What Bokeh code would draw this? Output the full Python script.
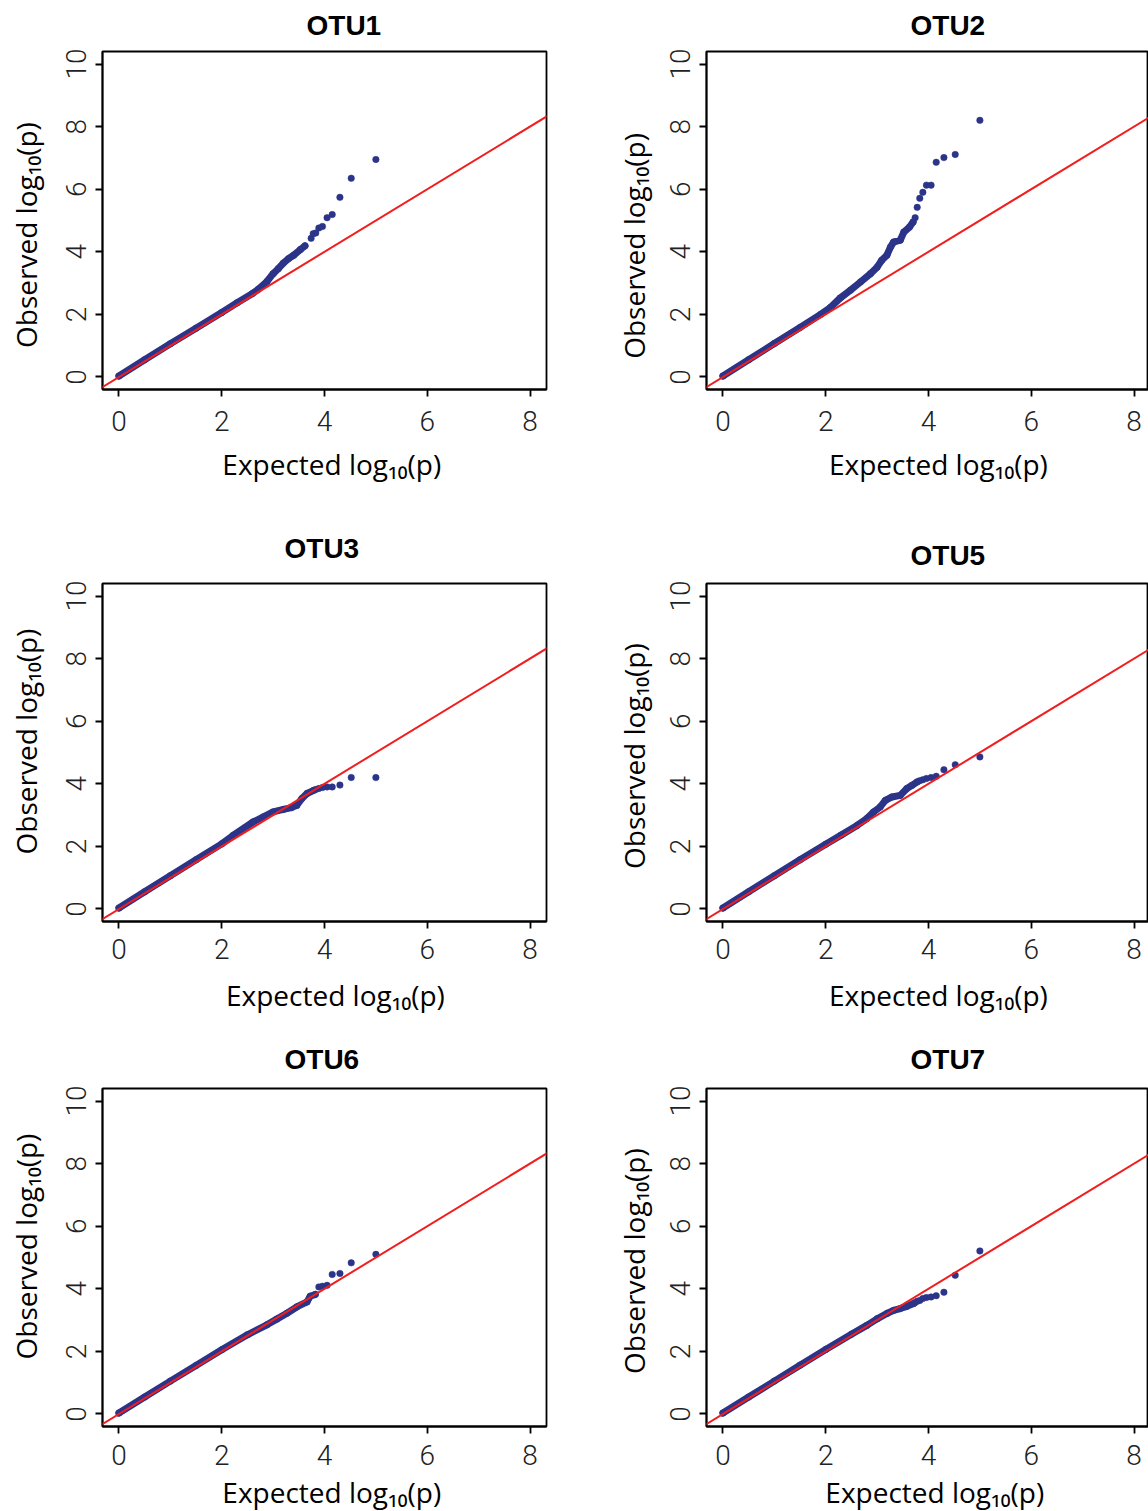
from bokeh.plotting import figure
from bokeh.layouts import column, row
from bokeh.models import Range1d, FixedTicker, Slope
from bokeh.embed import file_html
from bokeh.resources import INLINE

# ---------------- data ----------------
panel_titles = ["OTU1", "OTU2", "OTU3", "OTU5", "OTU6", "OTU7"]
x_ticks = [0, 2, 4, 6, 8]
y_ticks = [0, 2, 4, 6, 8, 10]
x_label = "Expected log\u2081\u2080(p)"
y_label = "Observed log\u2081\u2080(p)"

# dense part of each QQ curve (expected, observed) and the separated tail points
otu1_band_exp = [0.0, 0.5, 1.0, 1.5, 2.0, 2.3, 2.6, 2.71, 2.88, 3.00, 3.10, 3.20, 3.30, 3.40, 3.53, 3.62]
otu1_band_obs = [0.03, 0.55, 1.06, 1.56, 2.06, 2.37, 2.67, 2.80, 3.05, 3.30, 3.46, 3.64, 3.78, 3.89, 4.07, 4.19]
otu1_tail_exp = [3.74, 3.78, 3.83, 3.89, 3.96, 4.05, 4.15, 4.30, 4.52, 5.00]
otu1_tail_obs = [4.43, 4.58, 4.60, 4.76, 4.81, 5.09, 5.19, 5.74, 6.35, 6.95]

otu2_band_exp = [0.0, 0.5, 1.0, 1.5, 1.9, 2.09, 2.28, 2.48, 2.68, 2.87, 3.00, 3.09, 3.19, 3.26, 3.32, 3.45, 3.52, 3.63, 3.70]
otu2_band_obs = [0.03, 0.55, 1.07, 1.58, 2.00, 2.22, 2.52, 2.77, 3.04, 3.30, 3.51, 3.73, 3.89, 4.15, 4.31, 4.37, 4.63, 4.79, 4.95]
otu2_tail_exp = [3.74, 3.78, 3.83, 3.89, 3.96, 4.05, 4.15, 4.30, 4.52, 5.00]
otu2_tail_obs = [5.09, 5.42, 5.71, 5.90, 6.13, 6.13, 6.86, 7.01, 7.11, 8.20]

otu3_band_exp = [0.0, 0.5, 1.0, 1.5, 2.0, 2.22, 2.61, 2.81, 3.00, 3.20, 3.36, 3.46, 3.56, 3.66, 3.79]
otu3_band_obs = [0.03, 0.55, 1.06, 1.57, 2.08, 2.35, 2.78, 2.94, 3.10, 3.18, 3.24, 3.31, 3.53, 3.69, 3.79]
otu3_tail_exp = [3.83, 3.89, 3.96, 4.05, 4.15, 4.30, 4.52, 5.00]
otu3_tail_obs = [3.82, 3.85, 3.88, 3.90, 3.90, 3.96, 4.20, 4.20]

otu5_band_exp = [0.0, 0.5, 1.0, 1.5, 2.0, 2.3, 2.61, 2.80, 2.93, 3.06, 3.16, 3.29, 3.45, 3.58, 3.68, 3.78]
otu5_band_obs = [0.03, 0.55, 1.06, 1.57, 2.07, 2.36, 2.67, 2.89, 3.10, 3.26, 3.47, 3.58, 3.63, 3.85, 3.95, 4.06]
otu5_tail_exp = [3.83, 3.89, 3.96, 4.05, 4.15, 4.30, 4.52, 5.00]
otu5_tail_obs = [4.10, 4.13, 4.17, 4.20, 4.24, 4.45, 4.61, 4.86]

otu6_band_exp = [0.0, 0.5, 1.0, 1.5, 2.0, 2.5, 2.88, 3.07, 3.27, 3.46, 3.66, 3.72, 3.82]
otu6_band_obs = [0.03, 0.54, 1.05, 1.55, 2.05, 2.53, 2.85, 3.03, 3.22, 3.42, 3.58, 3.76, 3.82]
otu6_tail_exp = [3.89, 3.96, 4.05, 4.15, 4.30, 4.52, 5.00]
otu6_tail_obs = [4.06, 4.08, 4.11, 4.46, 4.49, 4.83, 5.10]

otu7_band_exp = [0.0, 0.5, 1.0, 1.5, 2.0, 2.5, 2.80, 3.00, 3.19, 3.32, 3.45, 3.58, 3.71]
otu7_band_obs = [0.03, 0.54, 1.05, 1.56, 2.06, 2.55, 2.83, 3.04, 3.21, 3.31, 3.37, 3.44, 3.53]
otu7_tail_exp = [3.74, 3.78, 3.83, 3.89, 3.96, 4.05, 4.15, 4.30, 4.52, 5.00]
otu7_tail_obs = [3.56, 3.60, 3.63, 3.69, 3.72, 3.74, 3.78, 3.89, 4.43, 5.21]

# reference line y = x
ref_slope = 1.0
ref_intercept = 0.0

bands = [
    (otu1_band_exp, otu1_band_obs, otu1_tail_exp, otu1_tail_obs),
    (otu2_band_exp, otu2_band_obs, otu2_tail_exp, otu2_tail_obs),
    (otu3_band_exp, otu3_band_obs, otu3_tail_exp, otu3_tail_obs),
    (otu5_band_exp, otu5_band_obs, otu5_tail_exp, otu5_tail_obs),
    (otu6_band_exp, otu6_band_obs, otu6_tail_exp, otu6_tail_obs),
    (otu7_band_exp, otu7_band_obs, otu7_tail_exp, otu7_tail_obs),
]

# ---------------- styling / layout ----------------
BLUE = "#2B3488"
RED = "#F01E1E"
TICK_FONT = "Roboto Light"
LABEL_FONT = "Open Sans"
TITLE_FONT = "Liberation Sans"
NB = "\u00a0"

FRAME_H = 338
X0, X1 = -0.32, 8.32
Y0, Y1 = -0.4, 10.4
PX_PER_X = 444 / (X1 - X0)

col_spec = [  # (min_border_left, frame_width, min_border_right)
    (102, 444, 62),
    (98, 442, 0),
]
col_ylabel_standoff = [19, 15]
row_top = [51, 70, 58]
row_bottom = [124, 109, 85]
row_xtick_standoff = [14, 10, 11]
row_xlabel_standoff = [11, 14, 5]
# title: (offset from frame left, standoff)
title_spec = [(204, 17), (204, 17), (182, 36), (204, 22), (182, 24), (204, 24)]
# small shifts of the axis titles along their axes, as (leading, trailing) padding
xlabel_pad = [(2, 0), (3, 0), (3, 0), (3, 0), (2, 0), (2, 0)]
ylabel_pad = [(0, 4), (0, 7), (3, 0), (0, 1), (3, 0), (0, 1)]


def make_panel(i):
    r, c = divmod(i, 2)
    bl, fw, br = col_spec[c]
    x_end = X0 + fw / PX_PER_X
    p = figure(
        frame_width=fw, frame_height=FRAME_H,
        min_border_left=bl, min_border_right=br,
        min_border_top=row_top[r], min_border_bottom=row_bottom[r],
        x_range=Range1d(X0, x_end), y_range=Range1d(Y0, Y1),
        output_backend="svg", toolbar_location=None, tools="",
        background_fill_color="white", border_fill_color="white",
    )
    p.grid.visible = False
    p.outline_line_color = "black"
    p.outline_line_width = 1.8

    bx, by, tx, ty = bands[i]
    p.line(bx, by, line_color=BLUE, line_width=7, line_cap="round", line_join="round")
    p.scatter(bx + tx, by + ty, size=6.5, fill_color=BLUE, line_color=BLUE, line_width=0.5)
    p.add_layout(Slope(gradient=ref_slope, y_intercept=ref_intercept, line_color=RED, line_width=2))

    for ax in (p.xaxis[0], p.yaxis[0]):
        ax.axis_line_width = 1.8
        ax.axis_line_color = "black"
        ax.major_tick_line_width = 1.8
        ax.major_tick_out = 7
        ax.major_tick_in = 0
        ax.minor_tick_out = 0
        ax.minor_tick_in = 0
        ax.major_label_text_font = TICK_FONT
        ax.major_label_text_font_size = "28px"
        ax.major_label_text_color = "#222222"
        ax.axis_label_text_font = LABEL_FONT
        ax.axis_label_text_font_size = "28px"
        ax.axis_label_text_font_style = "normal"
        ax.axis_label_text_color = "black"

    p.xaxis.ticker = FixedTicker(ticks=x_ticks)
    p.yaxis.ticker = FixedTicker(ticks=y_ticks)
    p.xaxis.major_label_standoff = row_xtick_standoff[r]
    p.yaxis.major_label_standoff = 9
    p.yaxis.major_label_orientation = "vertical"
    xl, xt = xlabel_pad[i]
    yl, yt = ylabel_pad[i]
    p.xaxis.axis_label = NB * xl + x_label + NB * xt
    p.yaxis.axis_label = NB * yl + y_label + NB * yt
    p.xaxis.axis_label_standoff = row_xlabel_standoff[r]
    p.yaxis.axis_label_standoff = col_ylabel_standoff[c]

    off, so = title_spec[i]
    p.title.text = panel_titles[i]
    p.title.align = "left"
    p.title.offset = off
    p.title.vertical_align = "top"
    p.title.standoff = so
    p.title.text_font = TITLE_FONT
    p.title.text_font_style = "bold"
    p.title.text_font_size = "28px"
    p.title.text_color = "black"
    return p


panels = [make_panel(i) for i in range(6)]
layout = column(
    row(panels[0], panels[1], spacing=0),
    row(panels[2], panels[3], spacing=0),
    row(panels[4], panels[5], spacing=0),
    spacing=0,
)

open("out.html", "w").write(file_html(layout, INLINE))
